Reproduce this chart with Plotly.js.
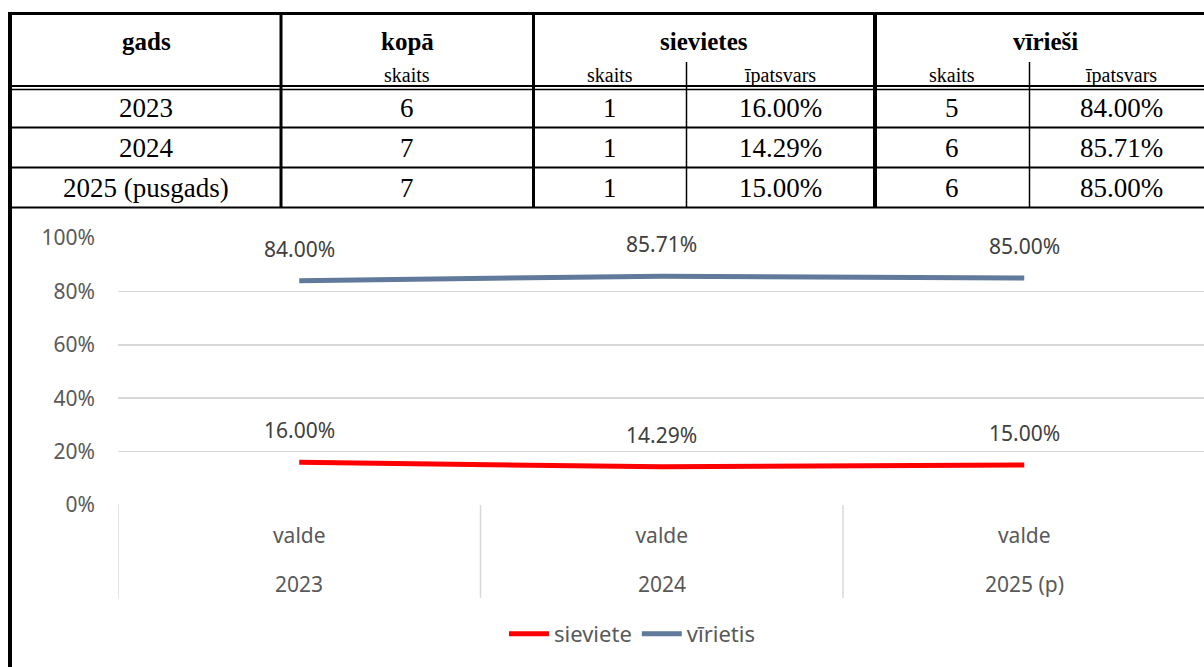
<!DOCTYPE html>
<html>
<head>
<meta charset="utf-8">
<script src="https://cdn.plot.ly/plotly-3.0.1.min.js"></script>
<style>html,body{margin:0;padding:0;background:#fff;}#chart{width:1204px;height:667px;}</style>
</head>
<body>
<div id="chart"></div>
<script>
// ---- table data ----
const tableYears = ["2023", "2024", "2025 (pusgads)"];
const totalCount = [6, 7, 7];
const womenCount = [1, 1, 1];
const womenShare = [16.00, 14.29, 15.00];
const menCount = [5, 6, 6];
const menShare = [84.00, 85.71, 85.00];
const groupHeaders = ["gads", "kopā", "sievietes", "vīrieši"];
const subHeaders = ["skaits", "skaits", "īpatsvars", "skaits", "īpatsvars"];

// ---- chart data ----
const chartYears = ["2023", "2024", "2025 (p)"];
const chartInner = ["valde", "valde", "valde"];
const seriesWomen = [0.16, 0.1429, 0.15];
const seriesMen = [0.84, 0.8571, 0.85];
const seriesNames = ["sieviete", "vīrietis"];

// ---- layout geometry (pixels) ----
const W = 1204, H = 667, ML = 118, MR = 0, MT = 238, MB = 162;
const PW = W - ML - MR, PH = H - MT - MB;
const px = v => (v - ML) / PW;
const py = v => (H - MB - v) / PH;

const grey = '#595959';
const serif = 'Liberation Serif, Times New Roman, serif';
const sans = 'Noto Sans, Open Sans, sans-serif';

const shapes = [];
function hline(y, x0, x1, w) {
  shapes.push({type: 'line', xref: 'paper', yref: 'paper', x0: px(x0), x1: px(x1), y0: py(y), y1: py(y), line: {color: '#000', width: w}});
}
function vline(x, y0, y1, w) {
  shapes.push({type: 'line', xref: 'paper', yref: 'paper', x0: px(x), x1: px(x), y0: py(y0), y1: py(y1), line: {color: '#000', width: w}});
}
const tableTop = 12, tableBottom = 207.5;
hline(13.5, 8, 1215, 3);
vline(10, 12, 680, 4);
hline(86, 8, 1215, 2);
hline(89.5, 8, 1215, 1.5);
const rowLines = [127.5, 167.5, 207.5];
rowLines.forEach(y => hline(y, 8, 1215, 2));
[[281, 3], [533.5, 3], [875, 4]].forEach(([x, w]) => vline(x, tableTop, tableBottom, w));
[686.5, 1029.5].forEach(x => vline(x, 62, tableBottom, 1.5));

// category dividers below the chart axis (at category boundaries)
for (let i = 0; i <= chartYears.length; i++) {
  shapes.push({type: 'line', xref: 'x', yref: 'paper', x0: i - 0.5, x1: i - 0.5, y0: 0, y1: py(598),
    line: {color: '#d9d9d9', width: 1.5}});
}

const annotations = [];
function txt(x, y, text, size, bold) {
  annotations.push({xref: 'paper', yref: 'paper', x: px(x), y: py(y), text: bold ? '<b>' + text + '</b>' : text,
    showarrow: false, xanchor: 'center', yanchor: 'middle', font: {family: serif, size: size, color: '#000'}});
}
const groupX = [146, 407, 704, 1045];
groupHeaders.forEach((t, i) => txt(groupX[i], 41, t, 25, true));
const subX = [407, 610, 780, 952, 1121];
subHeaders.forEach((t, i) => txt(subX[i], 75, t, 20, false));
const rowY = [108, 148, 188];
const colX = [146, 407, 610, 780, 952, 1121];
tableYears.forEach((yr, r) => {
  const vals = [yr, String(totalCount[r]), String(womenCount[r]), womenShare[r].toFixed(2) + '%',
                String(menCount[r]), menShare[r].toFixed(2) + '%'];
  vals.forEach((v, c) => txt(colX[c], rowY[r], v, 27, false));
});

// outer category labels (years) under the inner "valde" labels; x = category index
chartYears.forEach((yr, i) => {
  annotations.push({xref: 'x', yref: 'paper', x: i, y: py(584), text: yr, showarrow: false,
    xanchor: 'center', yanchor: 'middle', font: {family: sans, size: 21, color: grey}});
});

// data labels above points; x = category index
[seriesWomen, seriesMen].forEach(series => {
  series.forEach((v, i) => {
    annotations.push({xref: 'x', yref: 'y', x: i, y: v, yshift: 32, text: (v * 100).toFixed(2) + '%',
      showarrow: false, xanchor: 'center', yanchor: 'middle', font: {family: sans, size: 21, color: '#404040'}});
  });
});

const traces = [
  {type: 'scatter', mode: 'lines', name: seriesNames[0], x: chartYears, y: seriesWomen,
   line: {color: '#FF0000', width: 5}, hoverinfo: 'skip'},
  {type: 'scatter', mode: 'lines', name: seriesNames[1], x: chartYears, y: seriesMen,
   line: {color: '#61799A', width: 5}, hoverinfo: 'skip'}
];

const layout = {
  width: W, height: H,
  margin: {l: ML, r: MR, t: MT, b: MB, pad: 0},
  paper_bgcolor: '#fff', plot_bgcolor: '#fff',
  font: {family: sans, color: grey},
  showlegend: true,
  legend: {orientation: 'h', x: px(632), xanchor: 'center', y: py(634), yanchor: 'middle',
           font: {family: sans, size: 22, color: grey}, itemwidth: 40, tracegroupgap: 0},
  xaxis: {type: 'category', categoryorder: 'array', categoryarray: chartYears,
          range: [-0.5, -0.5 + PW / 362.5], showgrid: false, zeroline: false,
          showline: false, ticks: '', tickvals: chartYears, ticktext: chartInner,
          tickfont: {family: sans, size: 21, color: grey}, ticklabelstandoff: 16, automargin: false, fixedrange: true},
  yaxis: {range: [0, 1], tickvals: [0, 0.2, 0.4, 0.6, 0.8, 1], tickformat: '.0%', showgrid: true,
          gridcolor: '#d9d9d9', gridwidth: 1.5, zeroline: false, showline: false, ticks: '',
          ticklabelstandoff: 22, tickfont: {family: sans, size: 21, color: grey}, automargin: false, fixedrange: true},
  shapes: shapes,
  annotations: annotations
};

Plotly.newPlot('chart', traces, layout, {displayModeBar: false, staticPlot: true});
</script>
</body>
</html>
